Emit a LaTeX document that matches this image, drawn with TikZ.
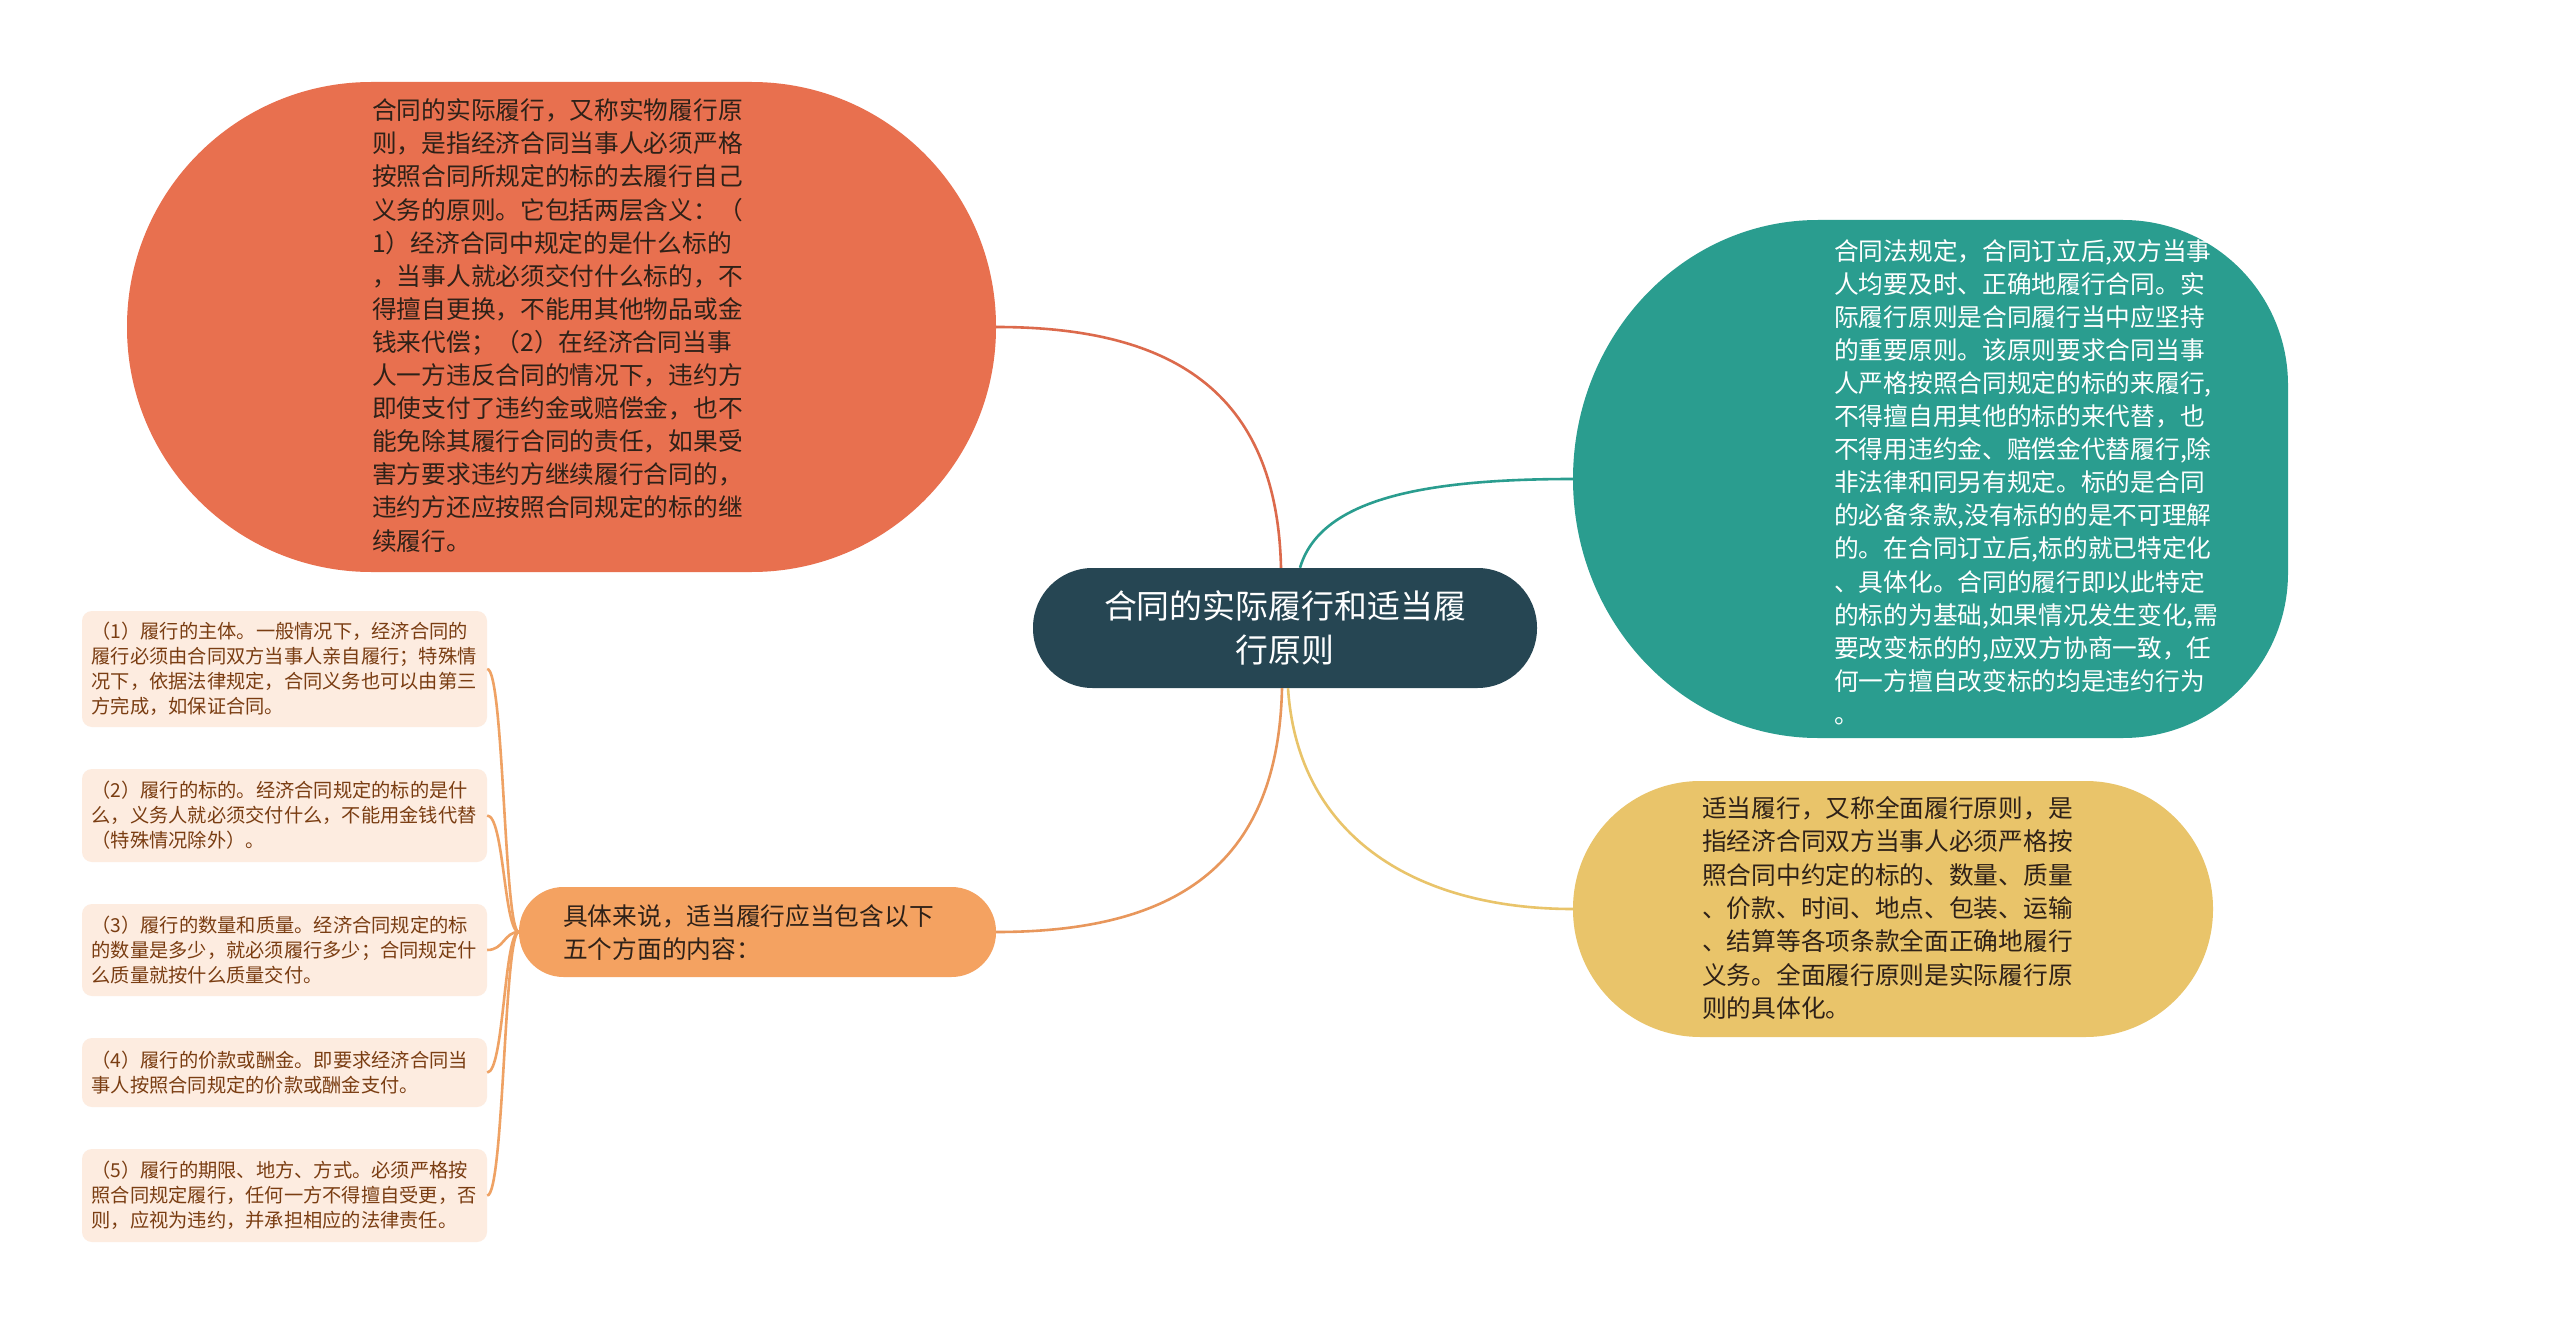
\documentclass[tikz,border=0pt]{standalone}
\usepackage{fontspec}
\newfontfamily\cjk{Noto Sans CJK SC}
\definecolor{cOrange}{HTML}{E8704F}
\definecolor{cTeal}{HTML}{2A9D8F}
\definecolor{cYel}{HTML}{E9C46A}
\definecolor{cDark}{HTML}{264653}
\definecolor{cMid}{HTML}{F4A261}
\definecolor{cBox}{HTML}{FDECE0}
\definecolor{cBoxTxt}{HTML}{7A3D12}
\definecolor{cDarkTxt}{HTML}{2E2118}
\definecolor{cLink}{HTML}{DC6A4C}
\definecolor{cMidLink}{HTML}{E8975C}
\definecolor{cBrk}{HTML}{EFA264}
\begin{document}
\begin{tikzpicture}[x=1pt,y=-1pt,
  blob/.style={rectangle,draw=none,inner sep=0pt},
  bigtxt/.style={inner sep=0pt,anchor=west,align=left,font=\cjk\fontsize{24.7}{33.1}\selectfont},
  itembox/.style={rectangle,fill=cBox,draw=none,rounded corners=10pt,inner xsep=9.5pt,inner ysep=0pt,
    minimum width=405pt,text width=386pt,align=left,text=cBoxTxt,font=\cjk\fontsize{19.25}{25}\selectfont},
  link/.style={line width=2.6pt},
  brk/.style={line width=2.6pt,draw=cBrk}]
\useasboundingbox (0,0) rectangle (2560,1324);
\fill[white] (0,0) rectangle (2560,1324);

% top-left orange
\node[blob,fill=cOrange,minimum width=869pt,minimum height=490pt,rounded corners=244.5pt] (big) at (561.5,327) {};
\node[bigtxt,text=cDarkTxt] (bigtext) at (372,325.5) {合同的实际履行，又称实物履行原\\则，是指经济合同当事人必须严格\\按照合同所规定的标的去履行自己\\义务的原则。它包括两层含义：（\\1）经济合同中规定的是什么标的\\，当事人就必须交付什么标的，不\\得擅自更换，不能用其他物品或金\\钱来代偿；（2）在经济合同当事\\人一方违反合同的情况下，违约方\\即使支付了违约金或赔偿金，也不\\能免除其履行合同的责任，如果受\\害方要求违约方继续履行合同的，\\违约方还应按照合同规定的标的继\\续履行。};

% right teal
\fill[cTeal] (1818,220) -- (2123,220) .. controls (2214.1,220) and (2288,293.9) .. (2288,385)
  -- (2288,573) .. controls (2288,664.1) and (2214.1,738) .. (2123,738)
  -- (1818,738) .. controls (1682.7,738) and (1573,622) .. (1573,479)
  .. controls (1573,336) and (1682.7,220) .. (1818,220) -- cycle;
\coordinate (tealW) at (1573,479);
\node[bigtxt,text=white] (tealtext) at (1834,482) {合同法规定，合同订立后,双方当事\\人均要及时、正确地履行合同。实\\际履行原则是合同履行当中应坚持\\的重要原则。该原则要求合同当事\\人严格按照合同规定的标的来履行,\\不得擅自用其他的标的来代替，也\\不得用违约金、赔偿金代替履行,除\\非法律和同另有规定。标的是合同\\的必备条款,没有标的的是不可理解\\的。在合同订立后,标的就已特定化\\、具体化。合同的履行即以此特定\\的标的为基础,如果情况发生变化,需\\要改变标的的,应双方协商一致，任\\何一方擅自改变标的均是违约行为\\。};

% right yellow
\node[blob,fill=cYel,minimum width=640pt,minimum height=256pt,rounded corners=127.5pt] (yel) at (1893,909) {};
\node[bigtxt,text=cDarkTxt,font=\cjk\fontsize{24.7}{33.3}\selectfont] (yeltext) at (1702,908) {适当履行，又称全面履行原则，是\\指经济合同双方当事人必须严格按\\照合同中约定的标的、数量、质量\\、价款、时间、地点、包装、运输\\、结算等各项条款全面正确地履行\\义务。全面履行原则是实际履行原\\则的具体化。};

% root
\node[blob,fill=cDark,minimum width=504pt,minimum height=120pt,rounded corners=59.5pt,
  text=white,align=center,font=\cjk\fontsize{32.9}{44}\selectfont] (root) at (1285,628) {合同的实际履行和适当履\\行原则};

% middle orange
\node[blob,fill=cMid,minimum width=477pt,minimum height=90pt,rounded corners=44.5pt] (mid) at (757.5,932) {};
\node[bigtxt,text=cDarkTxt,font=\cjk\fontsize{24.7}{33}\selectfont] (midtext) at (563,933) {具体来说，适当履行应当包含以下\\五个方面的内容：};

% item boxes
\node[itembox,minimum height=116pt] (b1) at (284.5,669) {（1）履行的主体。一般情况下，经济合同的\\履行必须由合同双方当事人亲自履行；特殊情\\况下，依据法律规定，合同义务也可以由第三\\方完成，如保证合同。};
\node[itembox,minimum height=93pt] (b2) at (284.5,815.5) {（2）履行的标的。经济合同规定的标的是什\\么，义务人就必须交付什么，不能用金钱代替\\（特殊情况除外）。};
\node[itembox,minimum height=92pt] (b3) at (284.5,950) {（3）履行的数量和质量。经济合同规定的标\\的数量是多少，就必须履行多少；合同规定什\\么质量就按什么质量交付。};
\node[itembox,minimum height=69pt] (b4) at (284.5,1072.5) {（4）履行的价款或酬金。即要求经济合同当\\事人按照合同规定的价款或酬金支付。};
\node[itembox,minimum height=93pt] (b5) at (284.5,1195.5) {（5）履行的期限、地方、方式。必须严格按\\照合同规定履行，任何一方不得擅自受更，否\\则，应视为违约，并承担相应的法律责任。};

% main connectors
\draw[link,draw=cLink] ([xshift=-4pt]root.north) .. controls (1277,390) and (1170,327) .. (big.east);
\draw[link,draw=cTeal] ([xshift=15pt]root.north) .. controls (1320,500) and (1420,479) .. (tealW);
\draw[link,draw=cMidLink] ([xshift=-3pt]root.south) .. controls (1278,870) and (1170,932) .. (mid.east);
\draw[link,draw=cYel] ([xshift=3pt]root.south) .. controls (1298,840) and (1420,909) .. (yel.west);

% bracket connectors
\coordinate (spine) at (504,932);
\foreach \b in {b1,b2,b3,b4,b5}{
  \draw[brk] (mid.west) .. controls (spine |- mid.west) and (spine |- \b.east) .. (\b.east);
}
\end{tikzpicture}
\end{document}
